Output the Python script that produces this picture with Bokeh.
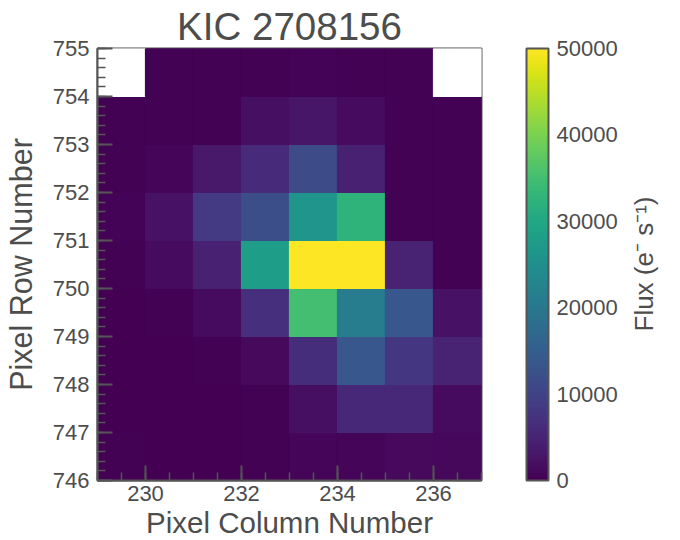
from bokeh.plotting import figure
from bokeh.layouts import row
from bokeh.models import (ColumnDataSource, LinearColorMapper, ColorBar,
                          SingleIntervalTicker, FixedTicker, Range1d)
from bokeh.palettes import Viridis256
from bokeh.embed import file_html
from bokeh.resources import INLINE

nan = float("nan")

title_text = "KIC 2708156"
x_label = "Pixel Column Number"
y_label = "Pixel Row Number"
cbar_label = "Flux (e⁻ s⁻¹)"

columns = [229, 230, 231, 232, 233, 234, 235, 236]
rows = [746, 747, 748, 749, 750, 751, 752, 753, 754]

row_746 = [200, 150, 150, 200, 600, 800, 1200, 1000]
row_747 = [100, 100, 100, 300, 2000, 5500, 5500, 1500]
row_748 = [100, 100, 200, 1200, 6500, 13500, 8000, 5000]
row_749 = [150, 200, 1500, 7000, 35000, 21000, 13500, 2500]
row_750 = [300, 1500, 4500, 28000, 55000, 55000, 5000, 300]
row_751 = [500, 2500, 8500, 12000, 26000, 32500, 300, 200]
row_752 = [300, 800, 3500, 6000, 11500, 4500, 200, 200]
row_753 = [200, 200, 300, 2000, 3000, 1500, 200, 200]
row_754 = [nan, 300, 300, 300, 400, 300, 300, nan]
flux_rows = [row_746, row_747, row_748, row_749, row_750, row_751,
             row_752, row_753, row_754]

cbar_ticks = [0, 10000, 20000, 30000, 40000, 50000]

TXT = "#4d4d4d"
EDGE = "#555555"
FONT = "Liberation Sans"

xs, ys, fs = [], [], []
for r, vals in zip(rows, flux_rows):
    for c, v in zip(columns, vals):
        xs.append(c + 0.5)
        ys.append(r + 0.5)
        fs.append(v)
src = ColumnDataSource(dict(x=xs, y=ys, flux=fs))

mapper = LinearColorMapper(palette=Viridis256, low=0, high=50000,
                           nan_color="white")

FH = 432
TOP = 48
BOTTOM = 540 - TOP - FH

p = figure(x_range=(229, 237), y_range=(746, 755),
           frame_width=384, frame_height=FH,
           min_border_left=97, min_border_top=TOP, min_border_right=139,
           min_border_bottom=0,
           output_backend="svg", toolbar_location=None)

p.rect(x="x", y="y", width=1, height=1, source=src,
       fill_color={"field": "flux", "transform": mapper},
       line_color={"field": "flux", "transform": mapper}, line_width=1.2)

p.title.text = title_text
p.title.text_font = FONT
p.title.text_font_size = "38.5px"
p.title.text_font_style = "normal"
p.title.text_color = TXT
p.title.align = "center"
p.title.standoff = 2

p.grid.visible = False
p.outline_line_color = EDGE
p.outline_line_width = 2
p.background_fill_color = "white"

p.xaxis.ticker = SingleIntervalTicker(interval=2, num_minor_ticks=4)
p.yaxis.ticker = SingleIntervalTicker(interval=1, num_minor_ticks=5)

for ax in (p.xaxis[0], p.yaxis[0]):
    ax.axis_line_color = EDGE
    ax.axis_line_width = 2
    ax.major_tick_in = 15
    ax.major_tick_out = 0
    ax.minor_tick_in = 8
    ax.minor_tick_out = 0
    ax.major_tick_line_color = EDGE
    ax.minor_tick_line_color = EDGE
    ax.major_tick_line_width = 2
    ax.minor_tick_line_width = 1.5
    ax.major_label_text_font = FONT
    ax.major_label_text_font_size = "22px"
    ax.major_label_text_color = TXT
    ax.axis_label_text_font = FONT
    ax.axis_label_text_font_style = "normal"
    ax.axis_label_text_color = TXT

p.xaxis.axis_label = x_label
p.yaxis.axis_label = y_label
p.xaxis.axis_label_text_font_size = "29.5px"
p.yaxis.axis_label_text_font_size = "30.5px"
p.xaxis.major_label_standoff = 5
p.xaxis.axis_label_standoff = 2
p.yaxis.major_label_standoff = 8
p.yaxis.axis_label_standoff = 12

cb = ColorBar(color_mapper=mapper, width=22, height=FH,
              location=(429, 0), margin=0, padding=0,
              ticker=FixedTicker(ticks=cbar_ticks),
              major_tick_line_color=None, minor_tick_line_color=None,
              bar_line_color=EDGE, bar_line_width=2,
              label_standoff=8,
              major_label_text_font=FONT,
              major_label_text_font_size="22px",
              major_label_text_color=TXT,
              background_fill_color=None, border_line_color=None)
p.add_layout(cb)

# narrow strip that carries the colour bar's vertical label
q = figure(x_range=Range1d(0, 1), y_range=Range1d(0, 1),
           width=46, height=540, x_axis_location=None,
           min_border_left=38, min_border_right=0,
           min_border_top=TOP, min_border_bottom=BOTTOM,
           output_backend="svg", toolbar_location=None)
q.grid.visible = False
q.outline_line_color = None
q.background_fill_color = None
q.border_fill_color = None
yax = q.yaxis[0]
yax.ticker = FixedTicker(ticks=[])
yax.axis_line_color = None
yax.major_tick_line_color = None
yax.minor_tick_line_color = None
yax.major_tick_out = 0
yax.major_tick_in = 0
yax.axis_label = cbar_label
yax.axis_label_standoff = 0
yax.axis_label_text_font = FONT
yax.axis_label_text_font_size = "26px"
yax.axis_label_text_font_style = "normal"
yax.axis_label_text_color = TXT

layout = row(p, q, spacing=0)
open("out.html", "w").write(file_html(layout, INLINE))
